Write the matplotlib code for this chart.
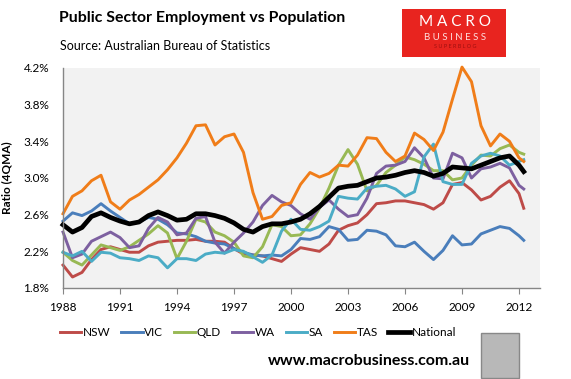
import numpy as np
import matplotlib
matplotlib.use("Agg")
import matplotlib.pyplot as plt
from matplotlib.patches import Rectangle

years = [1988.0 + 0.5 * i for i in range(49)] + [2012.25]

nsw = [2.05, 1.92, 1.97, 2.11, 2.22, 2.25, 2.22, 2.19, 2.19, 2.26, 2.30, 2.31, 2.32, 2.32, 2.33, 2.31,
       2.31, 2.30, 2.23, 2.17, 2.16, 2.15, 2.12, 2.09, 2.17, 2.24, 2.22, 2.20, 2.28, 2.43, 2.48, 2.51,
       2.60, 2.72, 2.73, 2.75, 2.75, 2.73, 2.71, 2.66, 2.73, 2.93, 2.95, 2.87, 2.76, 2.80, 2.90, 2.97,
       2.83, 2.67]
vic = [2.53, 2.62, 2.59, 2.64, 2.72, 2.64, 2.57, 2.50, 2.52, 2.57, 2.55, 2.49, 2.40, 2.39, 2.36, 2.31,
       2.29, 2.28, 2.23, 2.19, 2.16, 2.15, 2.16, 2.15, 2.22, 2.34, 2.33, 2.36, 2.47, 2.44, 2.32, 2.33,
       2.43, 2.42, 2.38, 2.26, 2.25, 2.30, 2.20, 2.11, 2.21, 2.37, 2.27, 2.28, 2.39, 2.43, 2.47, 2.45,
       2.37, 2.32]
qld = [2.19, 2.10, 2.05, 2.16, 2.27, 2.24, 2.21, 2.25, 2.32, 2.39, 2.48, 2.40, 2.12, 2.31, 2.55, 2.52,
       2.41, 2.37, 2.30, 2.15, 2.13, 2.25, 2.49, 2.47, 2.37, 2.38, 2.50, 2.67, 2.89, 3.14, 3.31, 3.15,
       2.86, 2.92, 3.06, 3.14, 3.23, 3.20, 3.15, 3.08, 3.08, 2.98, 3.00, 3.14, 3.25, 3.24, 3.32, 3.36,
       3.28, 3.26]
wa = [2.41, 2.13, 2.17, 2.31, 2.36, 2.41, 2.35, 2.24, 2.26, 2.45, 2.57, 2.52, 2.38, 2.40, 2.56, 2.58,
      2.30, 2.18, 2.30, 2.40, 2.52, 2.70, 2.81, 2.74, 2.70, 2.61, 2.55, 2.68, 2.76, 2.66, 2.58, 2.60,
      2.78, 3.05, 3.13, 3.14, 3.18, 3.33, 3.22, 3.00, 2.99, 3.27, 3.22, 3.00, 3.10, 3.12, 3.16, 3.11,
      2.92, 2.88]
sa = [2.19, 2.15, 2.20, 2.09, 2.19, 2.18, 2.13, 2.12, 2.10, 2.15, 2.13, 2.02, 2.12, 2.12, 2.10, 2.17,
      2.19, 2.18, 2.22, 2.20, 2.14, 2.08, 2.16, 2.42, 2.55, 2.44, 2.43, 2.47, 2.53, 2.80, 2.78, 2.77,
      2.89, 2.91, 2.92, 2.88, 2.80, 2.85, 3.23, 3.37, 2.96, 2.93, 2.93, 3.16, 3.24, 3.27, 3.24, 3.14,
      3.18, 3.20]
tas = [2.61, 2.80, 2.86, 2.97, 3.03, 2.74, 2.66, 2.76, 2.82, 2.90, 2.98, 3.09, 3.22, 3.38, 3.57, 3.58,
       3.36, 3.45, 3.48, 3.28, 2.84, 2.55, 2.58, 2.70, 2.73, 2.93, 3.06, 3.01, 3.05, 3.14, 3.13, 3.25,
       3.44, 3.43, 3.28, 3.18, 3.24, 3.49, 3.42, 3.30, 3.50, 3.86, 4.21, 4.05, 3.57, 3.35, 3.48, 3.40,
       3.22, 3.18]
national = [2.49, 2.41, 2.46, 2.58, 2.62, 2.57, 2.53, 2.50, 2.52, 2.59, 2.63, 2.59, 2.54, 2.55, 2.61, 2.61,
            2.59, 2.56, 2.51, 2.44, 2.41, 2.47, 2.50, 2.50, 2.52, 2.55, 2.61, 2.69, 2.79, 2.89, 2.91, 2.92,
            2.96, 3.00, 3.01, 3.03, 3.06, 3.08, 3.06, 3.02, 3.05, 3.12, 3.11, 3.10, 3.14, 3.18, 3.22, 3.24,
            3.14, 3.07]

series_names = ["NSW", "VIC", "QLD", "WA", "SA", "TAS", "National"]
series_values = [nsw, vic, qld, wa, sa, tas, national]
colors = ["#be4b48", "#4a7ebb", "#98b954", "#7d60a0", "#4bacc6", "#f07d19", "#000000"]
widths = [2.1, 2.1, 2.1, 2.1, 2.1, 2.1, 3.4]

y_ticks = [1.8, 2.2, 2.6, 3.0, 3.4, 3.8, 4.2]
x_ticks = [1988, 1991, 1994, 1997, 2000, 2003, 2006, 2009, 2012]

plt.rcParams['font.family'] = ['Lato', 'DejaVu Sans']

fig = plt.figure(figsize=(5.71, 3.79), dpi=100)
W, H = 571, 379
ax = fig.add_axes([63 / W, 1 - 288 / H, (540 - 63) / W, (288 - 68) / H])
ax.set_facecolor("#f2f2f2")

for name, vals, c, lw in zip(series_names, series_values, colors, widths):
    ax.plot(years, vals, color=c, lw=lw, label=name, solid_joinstyle='round', clip_on=False)

ax.set_xlim(1988, 1988 + (540 - 63) / 19.0)
ax.set_ylim(1.8, 4.2)
ax.set_yticks(y_ticks)
ax.set_yticklabels([f"{v:.1f}%" for v in y_ticks])
ax.set_xticks(x_ticks)
ax.set_xticklabels([str(x) for x in x_ticks])
for s in ["top", "right"]:
    ax.spines[s].set_visible(False)
for s in ["left", "bottom"]:
    ax.spines[s].set_color("#868686")
    ax.spines[s].set_linewidth(1.0)
ax.tick_params(axis='x', direction='out', length=4, color="#868686", labelsize=8.5, pad=6)
ax.tick_params(axis='y', length=0, labelsize=8.5, pad=10)
ax.set_ylabel("Ratio (4QMA)", fontsize=8.5, fontweight='bold', labelpad=8)

leg = fig.legend(loc='center', bbox_to_anchor=(258 / W, 1 - 333 / H), ncol=7, frameon=False,
                 fontsize=8.5, handlelength=1.8, handletextpad=0.15, columnspacing=0.9)

fig.text(59 / W, 1 - 18 / H, "Public Sector Employment vs Population", fontsize=11.4,
         fontweight='bold', va='center', ha='left')
fig.text(60 / W, 1 - 46 / H, "Source: Australian Bureau of Statistics", fontsize=9.0,
         va='center', ha='left')

# logo
fig.patches.append(Rectangle((402 / W, 1 - 57 / H), 104 / W, 48 / H, transform=fig.transFigure,
                             facecolor="#e8241f", edgecolor='none'))
fig.text(455 / W, 1 - 22 / H, "M A C R O", color='white', fontsize=11, ha='center', va='center')
fig.text(455 / W, 1 - 37 / H, "B U S I N E S S", color='#ffe0e0', fontsize=7, ha='center', va='center')
fig.text(455 / W, 1 - 47 / H, "S U P E R B L O G", color='#a01010', fontsize=4, ha='center', va='center')

fig.text(470 / W, 1 - 361 / H, "www.macrobusiness.com.au", fontsize=11.5, fontweight='bold',
         ha='right', va='center')
fig.patches.append(Rectangle((481 / W, 1 - 378 / H), 38 / W, 45 / H, transform=fig.transFigure,
                             facecolor="#b8b8b8", edgecolor='#888888', lw=1))

fig.savefig("out.png", dpi=100)
